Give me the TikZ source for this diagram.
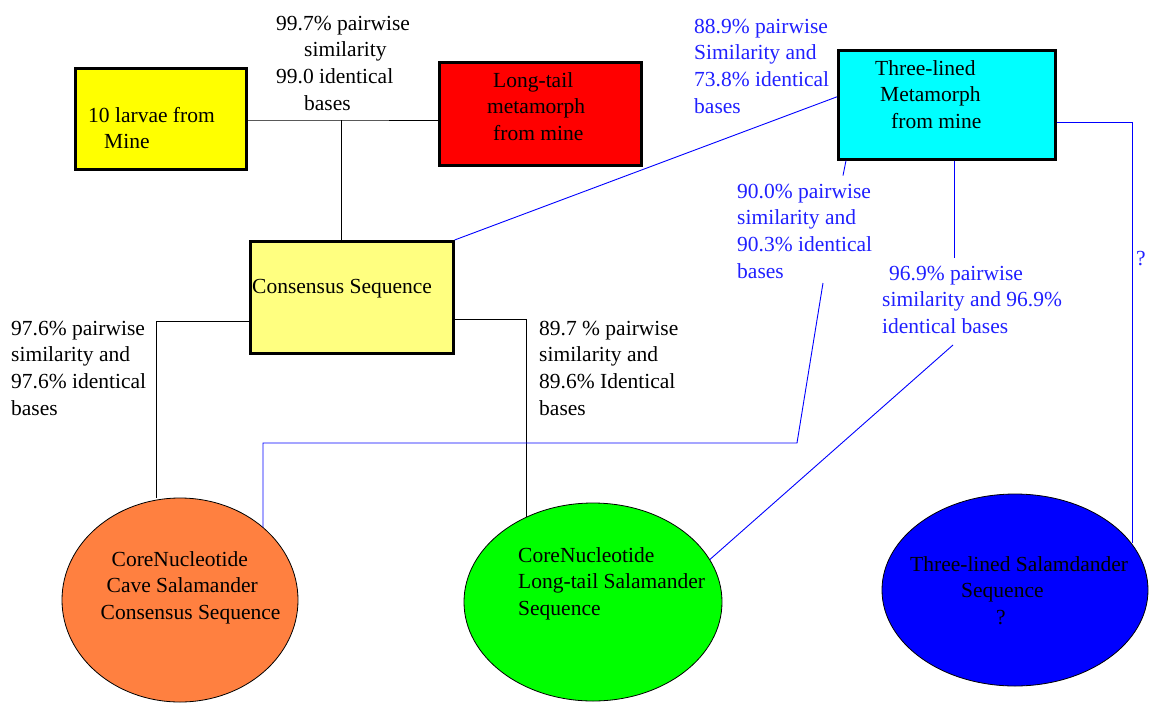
\documentclass[tikz,border=0pt]{standalone}
\usepackage{fontspec}
\setmainfont{Liberation Serif}
\newfontfamily\diagfont{Liberation Serif}
\usetikzlibrary{shapes.geometric}
\definecolor{larvaeyellow}{HTML}{FFFF00}
\definecolor{consyellow}{HTML}{FFFF80}
\definecolor{metared}{HTML}{FF0000}
\definecolor{metacyan}{HTML}{00FFFF}
\definecolor{caveorange}{HTML}{FF8040}
\definecolor{tailgreen}{HTML}{00FF00}
\definecolor{linedblue}{HTML}{0000FF}
\definecolor{textblue}{HTML}{2020FF}
\begin{document}
\begin{tikzpicture}[x=1pt,y=-1pt,
		every node/.style={font=\diagfont\fontsize{21.5}{26.7}\selectfont},
		box/.style={draw=black,line width=2.6pt,inner sep=0pt,anchor=north west},
		blob/.style={ellipse,draw=black,line width=0.8pt,inner sep=0pt},
		txt/.style={inner sep=0pt,anchor=base west,align=left},
		bluetxt/.style={txt,text=textblue},
		link/.style={black,line width=1pt},
		bluelink/.style={linedblue,line width=0.9pt}]
		\useasboundingbox (0,0) rectangle (1152,702);
		% boxes
		\node [box,fill=larvaeyellow,minimum width=171pt,minimum height=101pt] (larvae) at (74,67) {};
		\node [box,fill=metared,minimum width=202pt,minimum height=103pt] (longtail) at (438,61) {};
		\node [box,fill=metacyan,minimum width=217pt,minimum height=109pt] (threelined) at (837,49) {};
		\node [box,fill=consyellow,minimum width=203pt,minimum height=112pt] (consensus) at (249,240) {};
		% sequences
		\node [blob,fill=caveorange,minimum width=236pt,minimum height=204pt] (cave) at (180,600) {};
		\node [blob,fill=tailgreen,minimum width=258pt,minimum height=198pt] (longsal) at (593,602) {};
		\node [blob,fill=linedblue,minimum width=266pt,minimum height=192pt] (threesal) at (1015,590) {};
		% texts (anchored at the baseline of the last line)
		\node [txt] (larvaetxt) at (88,148.7) {10 larvae from\\\hspace*{16pt}Mine};
		\node [txt] (longtailtxt) at (487,140.4) {\hspace*{6pt}Long-tail\\metamorph\\\hspace*{6pt}from mine};
		\node [txt] (threelinedtxt) at (875,128.4) {Three-lined\\\hspace*{5pt}Metamorph\\\hspace*{16pt}from mine};
		\node [txt] (constxt) at (252,293) {Consensus Sequence};
		\node [txt] (cavetxt) at (100.5,619.4) {\hspace*{11pt}CoreNucleotide\\\hspace*{6pt}Cave Salamander\\Consensus Sequence};
		\node [txt] (tailtxt) at (518,615.4) {CoreNucleotide\\Long-tail Salamander\\Sequence};
		\node [txt] (threesaltxt) at (910,624.4) {Three-lined Salamdander\\\hspace*{51pt}Sequence\\\hspace*{86pt}?};
		% similarity labels
		\node [txt] (topsim) at (276,110.1) {99.7\% pairwise\\\hspace*{28pt}similarity\\99.0 identical\\\hspace*{28pt}bases};
		\node [txt] (leftsim) at (11,415.1) {97.6\% pairwise\\similarity and\\97.6\% identical\\bases};
		\node [txt] (rightsim) at (539,415.1) {89.7 \% pairwise\\similarity and\\89.6\% Identical\\bases};
		\node [bluetxt] (cyansim) at (694,113.1) {88.9\% pairwise\\Similarity and\\73.8\% identical\\bases};
		\node [bluetxt] (cavesim) at (737,278.1) {90.0\% pairwise\\similarity and\\90.3\% identical\\bases};
		\node [bluetxt] (tailsim) at (882,333.4) {\hspace*{7pt}96.9\% pairwise\\similarity and 96.9\%\\identical bases};
		\node [bluetxt] (qmark) at (1136,265) {?};
		% black links
		\coordinate (topjoin) at (341,120);
		\coordinate (leftjoin) at (156,321);
		\coordinate (rightjoin) at (526,319);
		\draw [link] (larvae.east |- topjoin) -- (topjoin) -- (longtail.west |- topjoin);
		\draw [link] (topjoin) -- (topjoin |- consensus.north);
		\draw [link] (consensus.west |- leftjoin) -- (leftjoin) -- (leftjoin |- cave.north);
		\draw [link] (consensus.east |- rightjoin) -- (rightjoin) -- (rightjoin |- longsal.128);
		% blue links
		\coordinate (cavefrom) at (823,283);
		\coordinate (cavebend) at (797,443);
		\coordinate (cavecorner) at (263,443);
		\coordinate (tailfrom) at (953,345);
		\coordinate (qcorner) at (1132,122);
		\draw [bluelink] (consensus.north east) -- ([yshift=8pt]threelined.west);
		\draw [bluelink] ([xshift=9pt]threelined.south west) -- ++(-3,15);
		\draw [bluelink] (cavefrom) -- (cavebend) -- (cavecorner) -- (cavecorner |- cave.41);
		\draw [bluelink] ([xshift=7.5pt]threelined.south) -- ++(0,97);
		\draw [bluelink] (tailfrom) -- (longsal.20);
		\draw [bluelink] (threelined.east |- qcorner) -- (qcorner) -- (qcorner |- threesal.22);
	\end{tikzpicture}
\end{document}
